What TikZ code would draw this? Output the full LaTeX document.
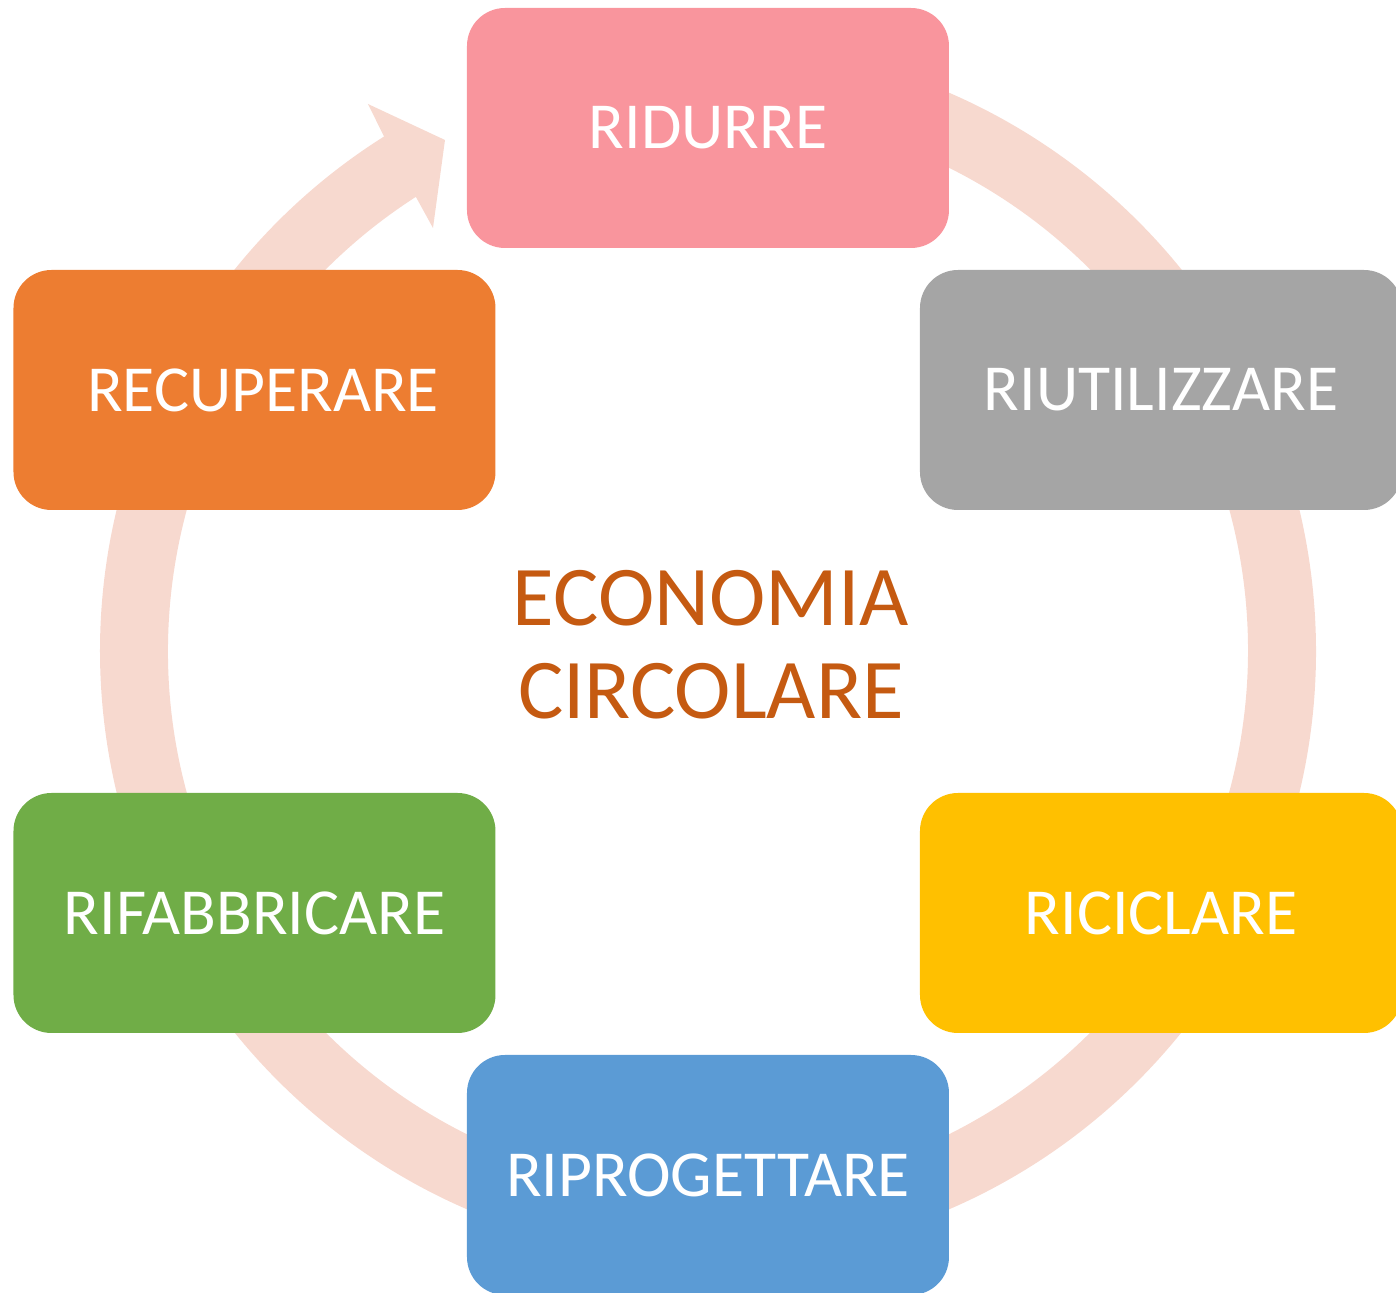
\documentclass[tikz,border=0pt]{standalone}
\usepackage{fontspec}
\setmainfont{Carlito}
\usepackage{tikz}
\usetikzlibrary{positioning}

\definecolor{ringpeach}{HTML}{F7D9CF}
\definecolor{ridpink}{HTML}{F9959D}
\definecolor{riugray}{HTML}{A5A5A5}
\definecolor{ricgold}{HTML}{FFC000}
\definecolor{ripblue}{HTML}{5B9BD5}
\definecolor{rifgreen}{HTML}{70AD47}
\definecolor{recorange}{HTML}{ED7D31}
\definecolor{titlerust}{HTML}{C55A11}

\begin{document}
\begin{tikzpicture}[
  stepbox/.style={rectangle, rounded corners=0.38cm, minimum width=4.82cm, minimum height=2.40cm,
    inner sep=0pt, text=white, font=\fontsize{18.7}{22}\selectfont},
  ringband/.style={fill=ringpeach},
  titlelbl/.style={align=center, text=titlerust, font=\fontsize{24.2}{26.5}\selectfont}
]

\useasboundingbox (-7.08,-6.42) rectangle (6.88,6.51);
\clip (-7.08,-6.42) rectangle (6.88,6.51);

\coordinate (c) at (0,0);
\fill[ringband] (95:6.08) arc[start angle=95, end angle=-237.8, radius=6.08]
  -- (-3.40,5.47) -- (-2.63,5.11) -- (-2.75,4.23)
  -- (-237.25:5.40) arc[start angle=-237.25, end angle=95, radius=5.40] -- cycle;

\node[stepbox, fill=ridpink] (nrid) at (0, 5.23) {RIDURRE};
\node[stepbox, fill=riugray] (nriu) at (4.53, 2.61) {RIUTILIZZARE};
\node[stepbox, fill=ricgold] (nric) at (4.53, -2.62) {RICICLARE};
\node[stepbox, fill=ripblue] (nrip) at (0, -5.24) {RIPROGETTARE};
\node[stepbox, fill=rifgreen] (nrif) at (-4.535, -2.62) {RIFABBRICARE};
\node[stepbox, fill=recorange] (nrec) at (-4.535, 2.61) {\hspace{0.17cm}RECUPERARE};

\node[titlelbl] (ntitle) at (0.03, 0.06) {ECONOMIA\\CIRCOLARE};

\end{tikzpicture}
\end{document}
